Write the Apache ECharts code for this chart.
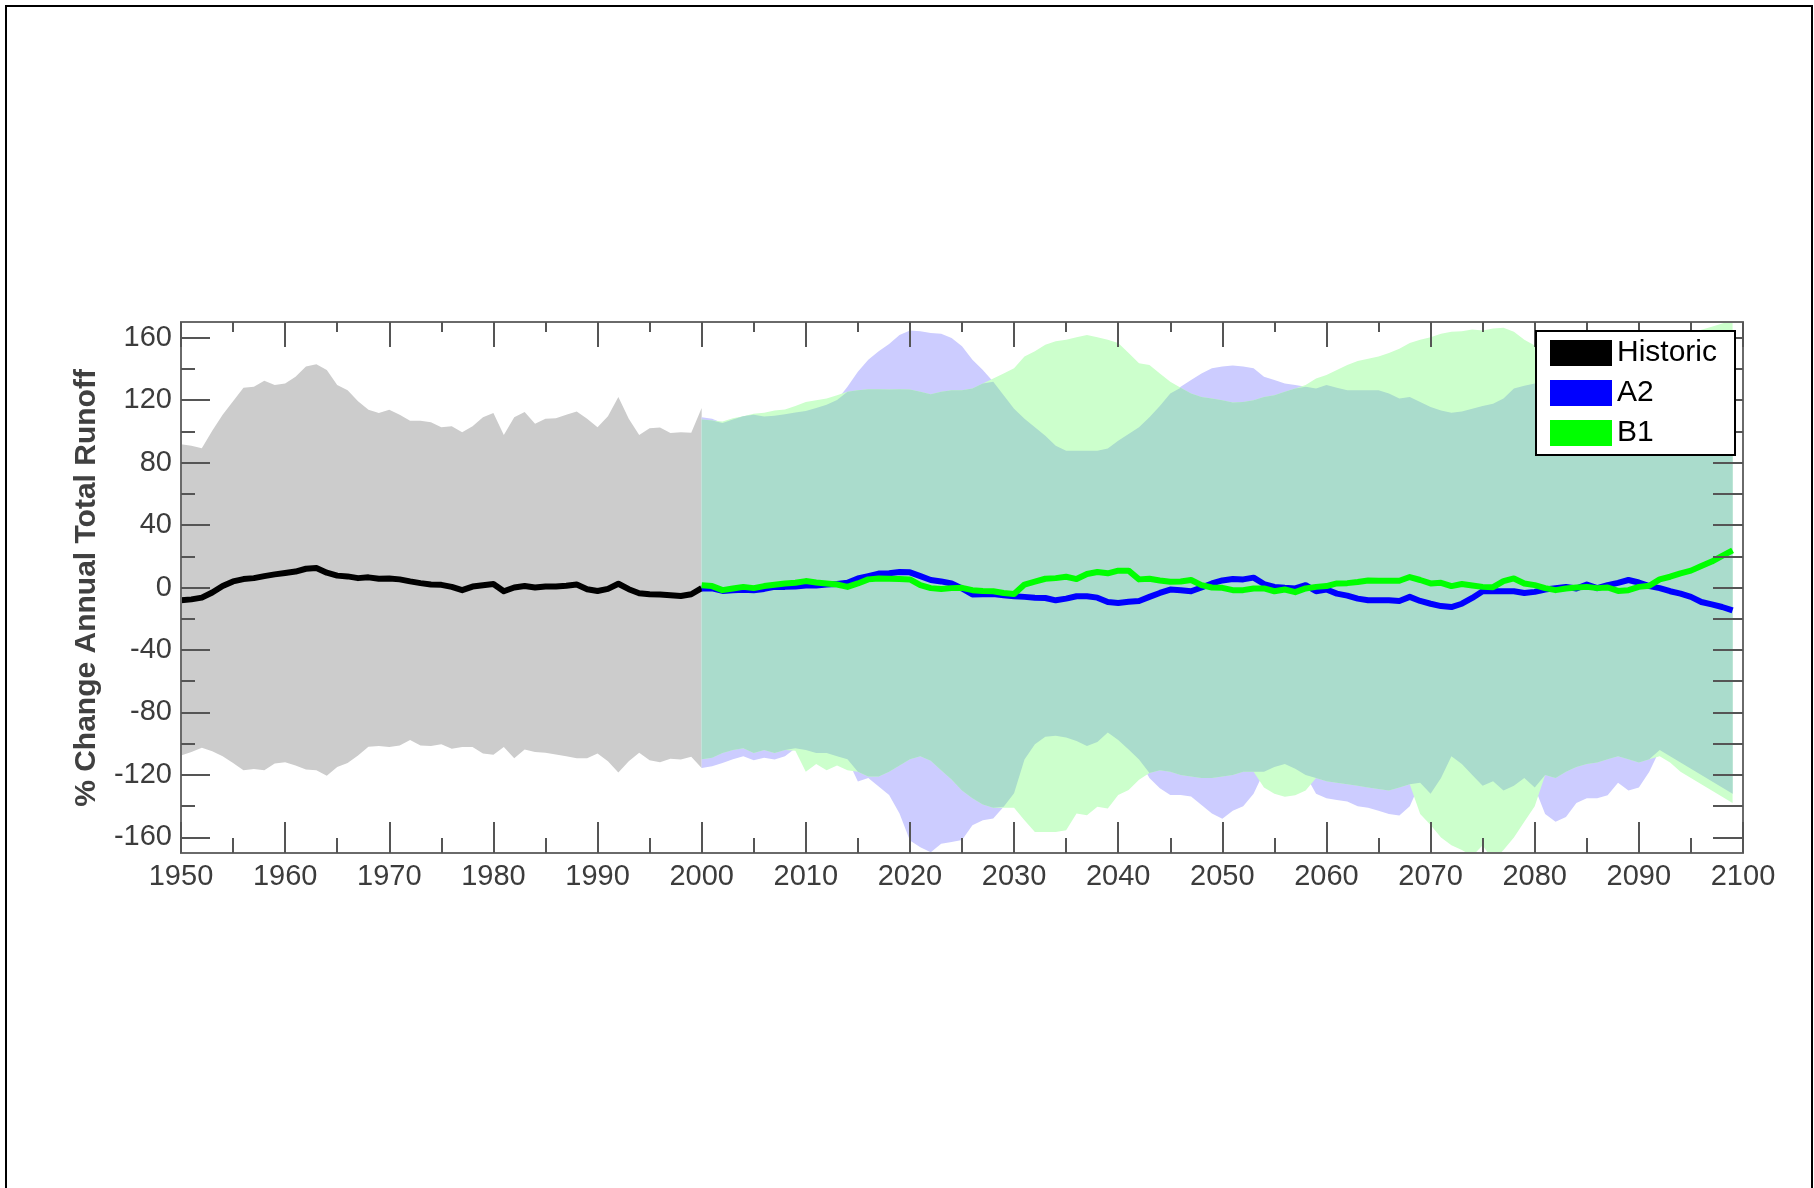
<!DOCTYPE html>
<html>
<head>
<meta charset="utf-8">
<script src="https://cdn.jsdelivr.net/npm/echarts@6/dist/echarts.min.js"></script>
<style>
  html, body { margin: 0; padding: 0; background: #ffffff; }
  #chart { width: 1814px; height: 1188px; }
</style>
</head>
<body>
<div id="chart"></div>
<script>
// ---- Historic simulations, 1950-2000 (% change in annual total runoff) ----
const histStart = 1950;
const histMean = [-8.2,-7.6,-6.5,-3.2,1,3.9,5.4,6,7.3,8.4,
  9.3,10.2,12,12.5,9.5,7.6,7.1,6,6.5,5.6,
  5.8,5.2,3.9,2.8,1.9,1.7,0.4,-1.7,0.6,1.5,
  2.2,-2.4,0,0.9,0,0.6,0.6,1.1,1.9,-1.1,
  -2.2,-0.9,2.4,-1.1,-3.7,-4.3,-4.5,-5,-5.4,-4.3,
  -0.4];
const histMax = [91.8,90.7,89.2,100.4,110.6,119.2,127.9,128.5,132.4,129.6,
  130.7,135,141.5,143,139.3,129.6,126.3,119.2,113.8,111.7,
  113.8,110.6,106.7,106.7,105.8,102.6,103.2,99.4,103.2,109,
  111.7,97.6,109,112.3,104.8,108,108.4,110.6,112.7,108,
  102.6,109.7,122,108,97.6,102,102.4,98.9,99.4,99.1,
  115];
const histMin = [-107.6,-105.4,-102.6,-104.8,-108,-112.3,-117,-116.2,-117,-112.7,
  -111.9,-114,-116.6,-117,-120.5,-114.9,-112.3,-107.6,-101.9,-101.5,
  -102.2,-101.1,-97.6,-101.1,-101.5,-100.4,-103.2,-102.2,-102.2,-106.3,
  -107.1,-102.2,-109.3,-103.7,-105.4,-105.8,-106.9,-108,-109.3,-109.3,
  -106.3,-111.2,-118.4,-111.2,-105.8,-110.6,-111.9,-109.7,-110.1,-108.4,
  -115.5];

// ---- Scenario projections, 2000-2099 ----
const projStart = 2000;
const a2Mean = [-0.6,-0.6,-2.2,-1.7,-1.5,-1.7,-0.9,0.4,0.4,0.6,
  1.3,1.3,1.9,2.2,3,5.8,7.3,8.9,9.1,9.9,
  9.7,7.3,4.8,3.9,2.6,-0.6,-4.5,-4.3,-4.1,-5,
  -5.6,-6,-6.5,-6.7,-8.2,-7.1,-5.6,-5.6,-6.5,-9.3,
  -9.9,-9.1,-8.6,-6,-3.5,-1.3,-1.7,-2.4,0,2.6,
  4.5,5.4,5.2,6.3,2.2,0.4,-0.2,-0.6,1.5,-2.4,
  -1.3,-3.9,-5.2,-7.1,-8.2,-8.2,-8.2,-8.6,-6,-8.6,
  -10.4,-11.9,-12.5,-10.4,-6.7,-2.4,-2.4,-2.4,-2.4,-3.5,
  -2.8,-1.3,-0.4,0.4,-0.6,1.9,-0.4,1.5,3,4.8,
  3.2,0.9,-0.4,-2.4,-3.9,-6,-9.3,-10.8,-12.5,-14.7];
const a2Max = [109,108,105.4,107.6,109.7,110.6,109.5,110,111,112,
  113,115,117,120,128.5,138.2,145.8,151.2,155.9,161.6,
  164.6,164.1,163,162.4,159.8,154.4,145.8,139.3,131.7,123.1,
  114.5,108,102.6,97.2,90.7,87.5,87.5,87.5,87.5,89,
  94,98.3,102.6,109,116.2,124.2,128.5,132.8,137.1,140.4,
  141.5,142.1,141.5,140.4,135,132.8,130.7,129.6,128.5,127.4,
  129.6,127.9,126.3,126.3,126.3,126.3,124.2,121,122,118.8,
  115.5,113.4,111.9,112.7,114.5,116.2,117.7,121,127.4,129.2,
  130.7,131,130,129,128,129,130,129,128,129,
  130,129,128,129,130,128,127,126,125,124];
const a2Min = [-115.5,-114.5,-112.3,-110,-108,-110.6,-109,-110.1,-108,-103,
  -104,-106,-106,-108,-110,-124.2,-122,-127.4,-132.8,-144.7,
  -162,-166.3,-169.5,-164.1,-163,-161.6,-152.3,-149,-147.9,-140.4,
  -131.7,-110.2,-100.4,-95.5,-95,-96.1,-98.3,-101.5,-98.9,-92.9,
  -97.6,-103.7,-110.2,-122,-128.5,-132.8,-132.8,-133.9,-139.3,-144.7,
  -148,-143,-140,-132,-118,-115,-113,-116,-120,-132,
  -135,-136,-137,-140,-141,-143,-145,-146,-140,-125,
  -132,-122,-108,-113,-120,-127,-124,-130,-127,-122,
  -128,-145,-150,-147,-138,-135,-135,-133,-125,-130,
  -128,-118,-104,-108,-112,-116,-120,-124,-128,-132];
const b1Mean = [1.5,0.9,-1.7,-0.6,0.4,-0.4,0.9,1.7,2.6,3,
  4.1,3.2,2.6,1.9,0.4,2.6,5.2,5.8,5.6,5.4,
  5.2,1.5,-0.4,-0.9,-0.4,-0.2,-1.7,-2.2,-2.4,-3.5,
  -4.1,1.9,3.7,5.6,6,6.9,5.4,8.6,9.9,9.1,
  10.8,10.8,5.2,5.6,4.5,3.7,3.9,4.8,1.5,0,
  -0.2,-1.7,-1.7,-0.6,-0.6,-2.4,-1.3,-3,-0.6,0.4,
  0.9,2.6,2.8,3.5,4.5,4.3,4.3,4.3,6.7,4.8,
  2.6,3,0.9,2.2,1.3,0.4,0.2,4.1,5.8,2.6,
  1.5,-0.4,-1.7,-0.6,0,0.4,-0.4,0,-2.2,-1.7,
  0.4,1.1,5.2,6.9,9.1,10.8,13.8,16.6,20.3,23.8];
const b1Max = [107.6,107,106.3,108.4,109.7,111.2,111.9,113.4,114,116.2,
  118.8,119.9,121,123.1,125.3,126.3,127,127,126.8,127,
  126.8,125.3,123.8,125.3,126.3,126.3,127.4,130.7,133.9,137.1,
  140.4,147.9,151.2,155.5,157.7,158.7,160.3,161.6,160.3,158.7,
  156.6,150.1,143.6,142.5,137.1,131.7,127.9,124.2,122,121,
  119.9,118.4,118.8,119.9,122,123.1,125.3,127.4,129.6,133.9,
  136.1,139.3,142.5,145.1,146.4,147.9,150.1,152.9,156.6,158.7,
  160.3,162.4,163.7,164.1,165.2,164.6,165.9,166.3,163.7,158.7,
  155,153,152,151,152,153,154,155,156,157,
  158,159,160,161,162,163,165,167,169,171];
const b1Min = [-110,-109,-106,-104,-103,-106,-104,-106,-104,-104.5,
  -118,-113,-117,-114,-117,-118,-121,-121,-118,-114,
  -110,-108,-111,-117,-123,-130,-135,-139,-141,-141,
  -141,-149,-156.6,-156.6,-156.6,-155.5,-144.7,-145.8,-140.4,-141.5,
  -132.8,-129.6,-123.1,-118.8,-117,-118,-120,-121,-122,-122,
  -121,-120,-118,-118,-128,-132,-134,-133,-130,-122,
  -124,-125,-126,-127,-128,-129,-130,-128,-126,-145,
  -152,-160,-165,-168,-172,-165,-175,-168,-160,-150,
  -140,-120,-122,-118,-115,-113,-112,-110,-108,-110,
  -112,-110,-108,-112,-118,-122,-126,-130,-134,-138];

// ---- Axis ticks ----
const yMajorTicks = [-160,-120,-80,-40,0,40,80,120,160];
const yMinorTicks = [-140,-100,-60,-20,20,60,100,140];
const yRightTicks = [-160,-140,-120,-100,-80,-60,-40,-20,0,20,40,60,80,100,120,140,160];

const legendNames = ['Historic','A2','B1'];
const lineColors = { Historic: '#000000', A2: '#0000ff', B1: '#00ff00' };

// Range shared by both scenarios (drawn in the blended colour)
const sharedLow = a2Min.map((v, i) => Math.max(v, b1Min[i]));
const sharedHigh = a2Max.map((v, i) => Math.min(v, b1Max[i]));

function pairs(arr, start) { return arr.map((v, i) => [start + i, v]); }

// A filled min/max range drawn as one polygon through the axis scales
function band(id, lo, hi, start, color, z) {
  return {
    name: id, type: 'custom', silent: true, z: z, clip: true, animation: false,
    xAxisIndex: 0, yAxisIndex: 0,
    encode: { x: 0, y: [1, 2] },
    data: lo.map((v, i) => [start + i, v, hi[i]]),
    renderItem: function (params, api) {
      if (params.dataIndexInside !== 0) return null;
      const n = params.dataInsideLength;
      const upper = [], lower = [];
      for (let i = 0; i < n; i++) {
        const x = api.value(0, i);
        upper.push(api.coord([x, api.value(2, i)]));
        lower.push(api.coord([x, api.value(1, i)]));
      }
      return {
        type: 'polygon',
        shape: { points: upper.concat(lower.reverse()) },
        style: { fill: color, stroke: null }
      };
    }
  };
}

function meanLine(name, arr, start, z) {
  return {
    name: name, type: 'line', data: pairs(arr, start), symbol: 'none',
    z: z, animation: false, xAxisIndex: 0, yAxisIndex: 0,
    itemStyle: { color: lineColors[name] },
    lineStyle: { color: lineColors[name], width: 6, join: 'round' }
  };
}

const tickColor = '#555555';
const axisLineStyle = { color: '#6a6a6a', width: 2 };
const labelFont = { fontFamily: 'Liberation Sans, Arial, sans-serif', fontSize: 29, color: '#3c3c3c' };

function xAxisDef(position, major, minor, showLabels) {
  return {
    type: 'value', position: position, min: 1950, max: 2100, interval: 10, z: 5,
    axisLine: { show: true, onZero: false, lineStyle: axisLineStyle },
    axisTick: { show: true, inside: true, length: major, lineStyle: { color: tickColor, width: 2 } },
    minorTick: { show: true, splitNumber: 2, length: minor, lineStyle: { color: tickColor, width: 2 } },
    splitLine: { show: false }, minorSplitLine: { show: false },
    axisLabel: Object.assign({ show: showLabels, margin: 9, formatter: v => String(v) }, labelFont)
  };
}

function yAxisDef(position, ticks, len, showLabels) {
  return {
    type: 'value', position: position, min: -170, max: 170, z: 5,
    axisLine: { show: true, onZero: false, lineStyle: axisLineStyle },
    axisTick: { show: true, inside: true, length: len, customValues: ticks,
      lineStyle: { color: tickColor, width: 2 } },
    splitLine: { show: false },
    axisLabel: Object.assign({ show: showLabels, margin: 9, customValues: ticks }, labelFont)
  };
}

const chart = echarts.init(document.getElementById('chart'), null, { renderer: 'canvas' });

chart.setOption({
  backgroundColor: '#ffffff',
  animation: false,
  grid: { left: 181, top: 322, width: 1562, height: 531, containLabel: false },
  xAxis: [xAxisDef('bottom', 31, 15, true), xAxisDef('top', 25, 10, false)],
  yAxis: [
    yAxisDef('left', yMajorTicks, 29, true),
    yAxisDef('left', yMinorTicks, 14, false),
    yAxisDef('right', yRightTicks, 30, false)
  ],
  legend: {
    data: legendNames.map(n => ({ name: n, itemStyle: { color: lineColors[n] } })),
    orient: 'vertical', left: 1536, top: 331,
    padding: [7, 18, 7, 14], itemGap: 10,
    itemWidth: 62, itemHeight: 26, icon: 'rect',
    backgroundColor: '#ffffff', borderColor: '#000000', borderWidth: 2, borderRadius: 0,
    textStyle: { fontFamily: 'Liberation Sans, Arial, sans-serif', fontSize: 30, color: '#000000' },
    selectedMode: false, z: 10
  },
  graphic: [
    {
      type: 'rect', silent: true, z: 20,
      shape: { x: 6, y: 6, width: 1806, height: 1300 },
      style: { fill: 'none', stroke: '#000000', lineWidth: 2 }
    },
    {
      type: 'text', silent: true, z: 20,
      x: 87, y: 588, rotation: Math.PI / 2,
      style: {
        text: '% Change Annual Total Runoff',
        font: 'bold 30px "Liberation Sans", Arial, sans-serif',
        fill: '#404040', align: 'center', verticalAlign: 'middle'
      }
    }
  ],
  series: [
    band('hist', histMin, histMax, histStart, '#cccccc', 1),
    band('a2band', a2Min, a2Max, projStart, '#ccccff', 1),
    band('b1band', b1Min, b1Max, projStart, '#ccffcc', 1),
    band('shared', sharedLow, sharedHigh, projStart, '#aadccc', 1),
    meanLine('Historic', histMean, histStart, 3),
    meanLine('A2', a2Mean, projStart, 3),
    meanLine('B1', b1Mean, projStart, 3)
  ]
});
</script>
</body>
</html>
